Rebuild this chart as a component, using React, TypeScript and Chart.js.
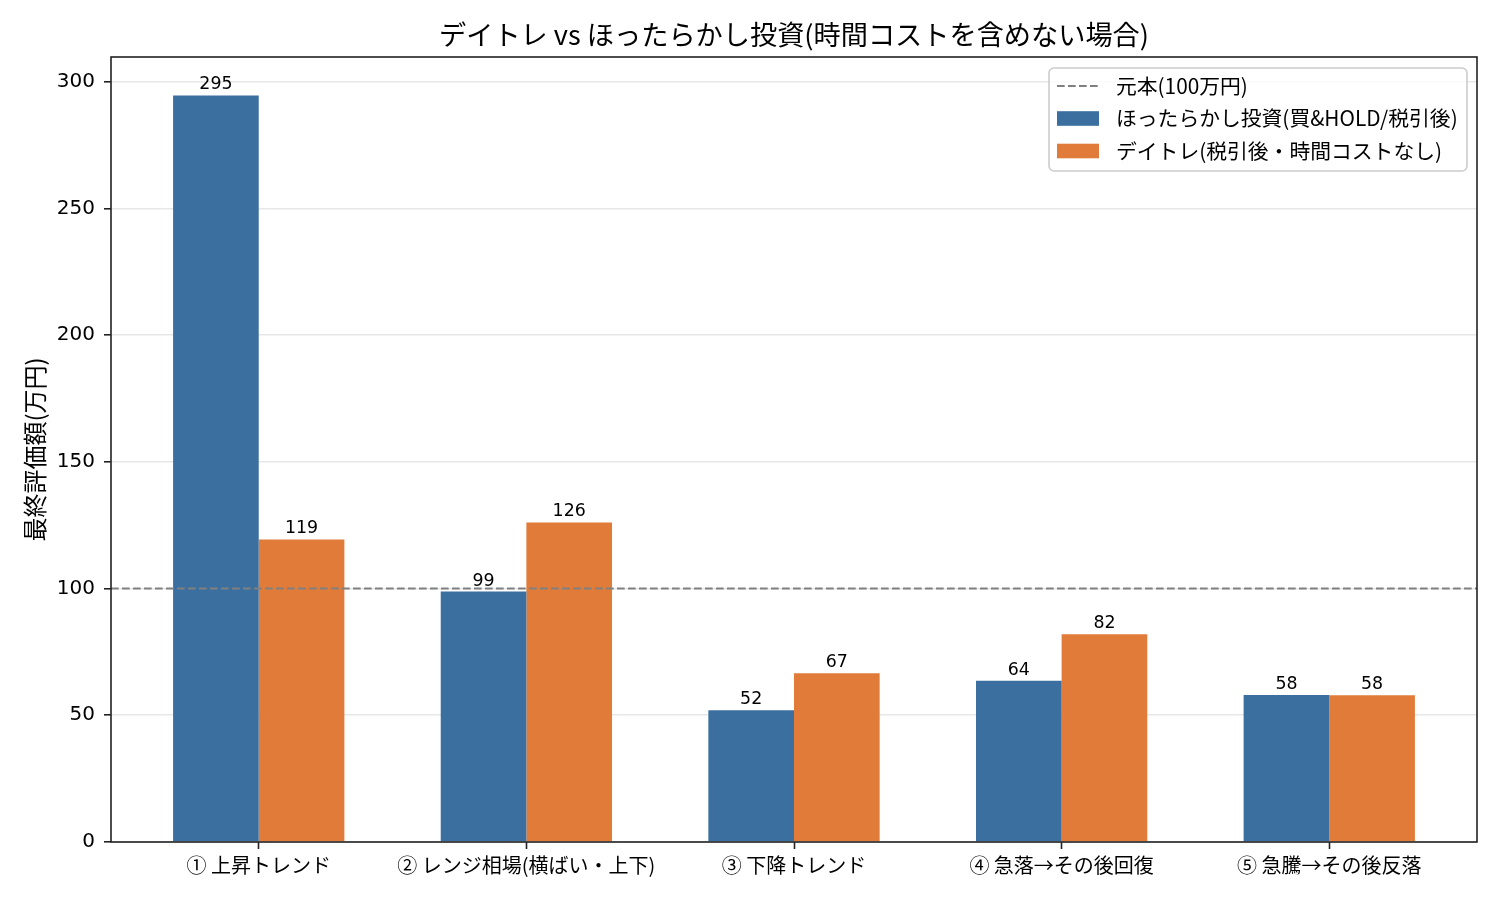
import { useEffect, useRef } from "react";
import { Chart, registerables } from "chart.js";
import type { Plugin } from "chart.js";

Chart.register(...registerables);

const categories = [
  "① 上昇トレンド",
  "② レンジ相場(横ばい・上下)",
  "③ 下降トレンド",
  "④ 急落→その後回復",
  "⑤ 急騰→その後反落",
];
const holdValues = [294.6, 98.8, 52.0, 63.6, 58.0];
const dayTradeValues = [119.4, 126.1, 66.6, 82.0, 57.9];
const yTicks = [0, 50, 100, 150, 200, 250, 300];
const BASELINE = 100;

const TITLE = "デイトレ vs ほったらかし投資(時間コストを含めない場合)";
const Y_LABEL = "最終評価額(万円)";
const BASELINE_LABEL = "元本(100万円)";
const HOLD_LABEL = "ほったらかし投資(買&HOLD/税引後)";
const DAYTRADE_LABEL = "デイトレ(税引後・時間コストなし)";

const BLUE = "#3A6F9F";
const ORANGE = "#E07B3A";
const FONT = "'Noto Sans CJK JP', 'Noto Sans', sans-serif";
const NUM_FONT = "'DejaVu Sans', sans-serif";
const DASH = [7.7, 3.3];

const overlay: Plugin = {
  id: "overlay",
  afterDraw(chart) {
    const { ctx, chartArea: a, scales } = chart;
    const y = scales.y;
    ctx.save();

    // reference line
    const by = y.getPixelForValue(BASELINE);
    ctx.strokeStyle = "#808080";
    ctx.lineWidth = 2;
    ctx.setLineDash(DASH);
    ctx.beginPath();
    ctx.moveTo(a.left, by);
    ctx.lineTo(a.right, by);
    ctx.stroke();
    ctx.setLineDash([]);

    // frame
    ctx.strokeStyle = "#222";
    ctx.lineWidth = 1.6;
    ctx.strokeRect(a.left, a.top, a.right - a.left, a.bottom - a.top);

    // bar labels
    ctx.fillStyle = "#000";
    ctx.font = `17.4px ${NUM_FONT}`;
    ctx.textAlign = "center";
    ctx.textBaseline = "alphabetic";
    chart.data.datasets.forEach((ds, di) => {
      const meta = chart.getDatasetMeta(di);
      meta.data.forEach((el: any, i) => {
        const v = (ds.data[i] as any).y as number;
        ctx.fillText(String(Math.round(v)), el.x, el.y - 6);
      });
    });

    // title
    ctx.font = `27.2px ${FONT}`;
    ctx.textBaseline = "middle";
    ctx.fillText(TITLE, (a.left + a.right) / 2, 35);

    // y label
    ctx.save();
    ctx.translate(35, (a.top + a.bottom) / 2);
    ctx.rotate(-Math.PI / 2);
    ctx.font = `24px ${FONT}`;
    ctx.fillText(Y_LABEL, 0, 0);
    ctx.restore();

    // legend
    const lx = 1049, ly = 68, lw = 418, lh = 103;
    ctx.beginPath();
    ctx.roundRect(lx, ly, lw, lh, 5);
    ctx.fillStyle = "rgba(255,255,255,0.8)";
    ctx.fill();
    ctx.strokeStyle = "#cccccc";
    ctx.lineWidth = 1.6;
    ctx.stroke();

    const rows = [
      { label: BASELINE_LABEL, kind: "line", color: "#808080" },
      { label: HOLD_LABEL, kind: "box", color: BLUE },
      { label: DAYTRADE_LABEL, kind: "box", color: ORANGE },
    ];
    ctx.font = `20.8px ${FONT}`;
    ctx.textAlign = "left";
    rows.forEach((r, i) => {
      const cy = 86 + i * 32.5;
      if (r.kind === "line") {
        ctx.strokeStyle = r.color;
        ctx.lineWidth = 2;
        ctx.setLineDash(DASH);
        ctx.beginPath();
        ctx.moveTo(1057, cy);
        ctx.lineTo(1099, cy);
        ctx.stroke();
        ctx.setLineDash([]);
      } else {
        ctx.fillStyle = r.color;
        ctx.fillRect(1057, cy - 7.3, 42, 14.6);
      }
      ctx.fillStyle = "#000";
      ctx.fillText(r.label, 1116, cy);
    });

    ctx.restore();
  },
};

export default function App() {
  const canvasRef = useRef<HTMLCanvasElement>(null);

  useEffect(() => {
    document.body.style.margin = "0";
    if (!canvasRef.current) return;

    const chart = new Chart(canvasRef.current, {
      type: "bar",
      data: {
        datasets: [
          {
            label: HOLD_LABEL,
            data: holdValues.map((v, i) => ({ x: i, y: v })),
            backgroundColor: BLUE,
            borderWidth: 0,
            categoryPercentage: 0.64,
            barPercentage: 1,
          },
          {
            label: DAYTRADE_LABEL,
            data: dayTradeValues.map((v, i) => ({ x: i, y: v })),
            backgroundColor: ORANGE,
            borderWidth: 0,
            categoryPercentage: 0.64,
            barPercentage: 1,
          },
        ],
      },
      options: {
        responsive: false,
        animation: false,
        layout: { padding: { top: 57, right: 23, left: 0, bottom: 0 } },
        font: { family: FONT },
        plugins: {
          legend: { display: false },
          title: { display: false },
          tooltip: { enabled: false },
        },
        scales: {
          x: {
            type: "linear",
            min: -0.552,
            max: categories.length - 1 + 0.552,
            offset: false,
            afterBuildTicks: (s: any) => {
              s.ticks = categories.map((_, i) => ({ value: i }));
            },
            afterFit: (s: any) => {
              s.height = 58;
            },
            grid: {
              offset: false,
              drawOnChartArea: false,
              drawTicks: true,
              tickLength: 7,
              tickColor: "#222",
              tickWidth: 1.6,
            },
            border: { display: false },
            ticks: {
              color: "#000",
              font: { family: FONT, size: 20 },
              padding: 4,
              maxRotation: 0,
              autoSkip: false,
              callback: (v: any) => categories[v as number] ?? "",
            },
          },
          y: {
            type: "linear",
            min: 0,
            max: 309.75,
            z: 1,
            afterBuildTicks: (s: any) => {
              s.ticks = yTicks.map((v) => ({ value: v }));
            },
            afterFit: (s: any) => {
              s.width = 111;
            },
            grid: {
              color: "rgba(176,176,176,0.3)",
              lineWidth: 1.6,
              drawTicks: true,
              tickLength: 7,
              tickColor: "#222",
              tickWidth: 1.6,
            },
            border: { display: false },
            ticks: {
              color: "#000",
              font: { family: NUM_FONT, size: 20 },
              padding: 9,
            },
          },
        },
      },
      plugins: [overlay],
    });

    return () => chart.destroy();
  }, []);

  return (
    <div style={{ width: 1500, height: 900, background: "#fff" }}>
      <canvas ref={canvasRef} width={1500} height={900} style={{ width: 1500, height: 900 }} />
    </div>
  );
}
